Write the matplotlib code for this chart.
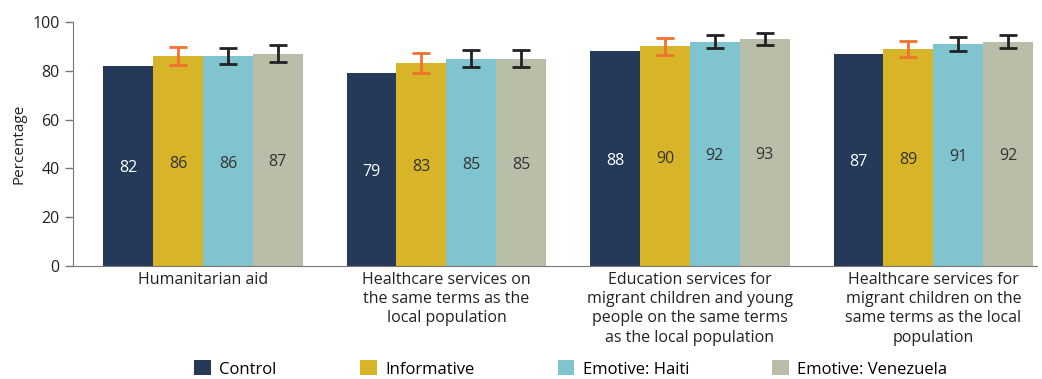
import numpy as np
import matplotlib
matplotlib.use("Agg")
import matplotlib.pyplot as plt

matplotlib.rcParams.update({
    'font.family': ['Open Sans', 'DejaVu Sans'],
    'font.size': 11,
})

categories = ["Humanitarian aid",
              "Healthcare services on\nthe same terms as the\nlocal population",
              "Education services for\nmigrant children and young\npeople on the same terms\nas the local population",
              "Healthcare services for\nmigrant children on the\nsame terms as the local\npopulation"]
series = ["Control", "Informative", "Emotive: Haiti", "Emotive: Venezuela"]
values = [
    [82, 79, 88, 87],
    [86, 83, 90, 89],
    [86, 85, 92, 91],
    [87, 85, 93, 92],
]
errors = [
    None,
    [3.6, 4.1, 3.4, 3.3],
    [3.3, 3.5, 2.7, 2.8],
    [3.6, 3.5, 2.5, 2.7],
]
colors = ["#243a58", "#d7b428", "#7fc4ce", "#b9bea9"]
err_colors = [None, "#f0722f", "#222222", "#222222"]
label_colors = ["white", "#333333", "#333333", "#333333"]

fig = plt.figure(figsize=(10.42, 3.79), dpi=100)
ax = fig.add_axes([0.070, 0.298, 0.925, 0.644])

x = np.arange(len(categories))
w = 0.205
for i, s in enumerate(series):
    pos = x + (i - 1.5) * w
    ax.bar(pos, values[i], width=w, color=colors[i], label=s)
    if errors[i] is not None:
        ax.errorbar(pos, values[i], yerr=errors[i], fmt='none',
                    ecolor=err_colors[i], elinewidth=2, capsize=6.5, capthick=2)
    for p, v in zip(pos, values[i]):
        ax.text(p, v / 2 - 1, str(v), ha='center', va='center', fontsize=11.5,
                color=label_colors[i])

ax.set_xlim(-0.534, 3.425)
ax.set_ylim(0, 100)
ax.set_yticks([0, 20, 40, 60, 80, 100])
ax.set_xticks(x)
ax.set_xticklabels(categories, fontsize=11.5, color='#222222', linespacing=1.28)
ax.tick_params(axis='x', length=0, pad=4)
ax.tick_params(axis='y', length=6, width=1, color='#777777', labelcolor='#222222', labelsize=11.5)
ax.set_ylabel("Percentage", fontsize=11, color='#222222')
for sp in ['top', 'right']:
    ax.spines[sp].set_visible(False)
for sp in ['left', 'bottom']:
    ax.spines[sp].set_color('#777777')

fig.legend(loc='lower center', bbox_to_anchor=(0.548, -0.036), ncol=4, frameon=False,
           handlelength=1.0, handleheight=1.0, handletextpad=0.5, columnspacing=5.0,
           fontsize=12)

plt.savefig("out.png", dpi=100)
